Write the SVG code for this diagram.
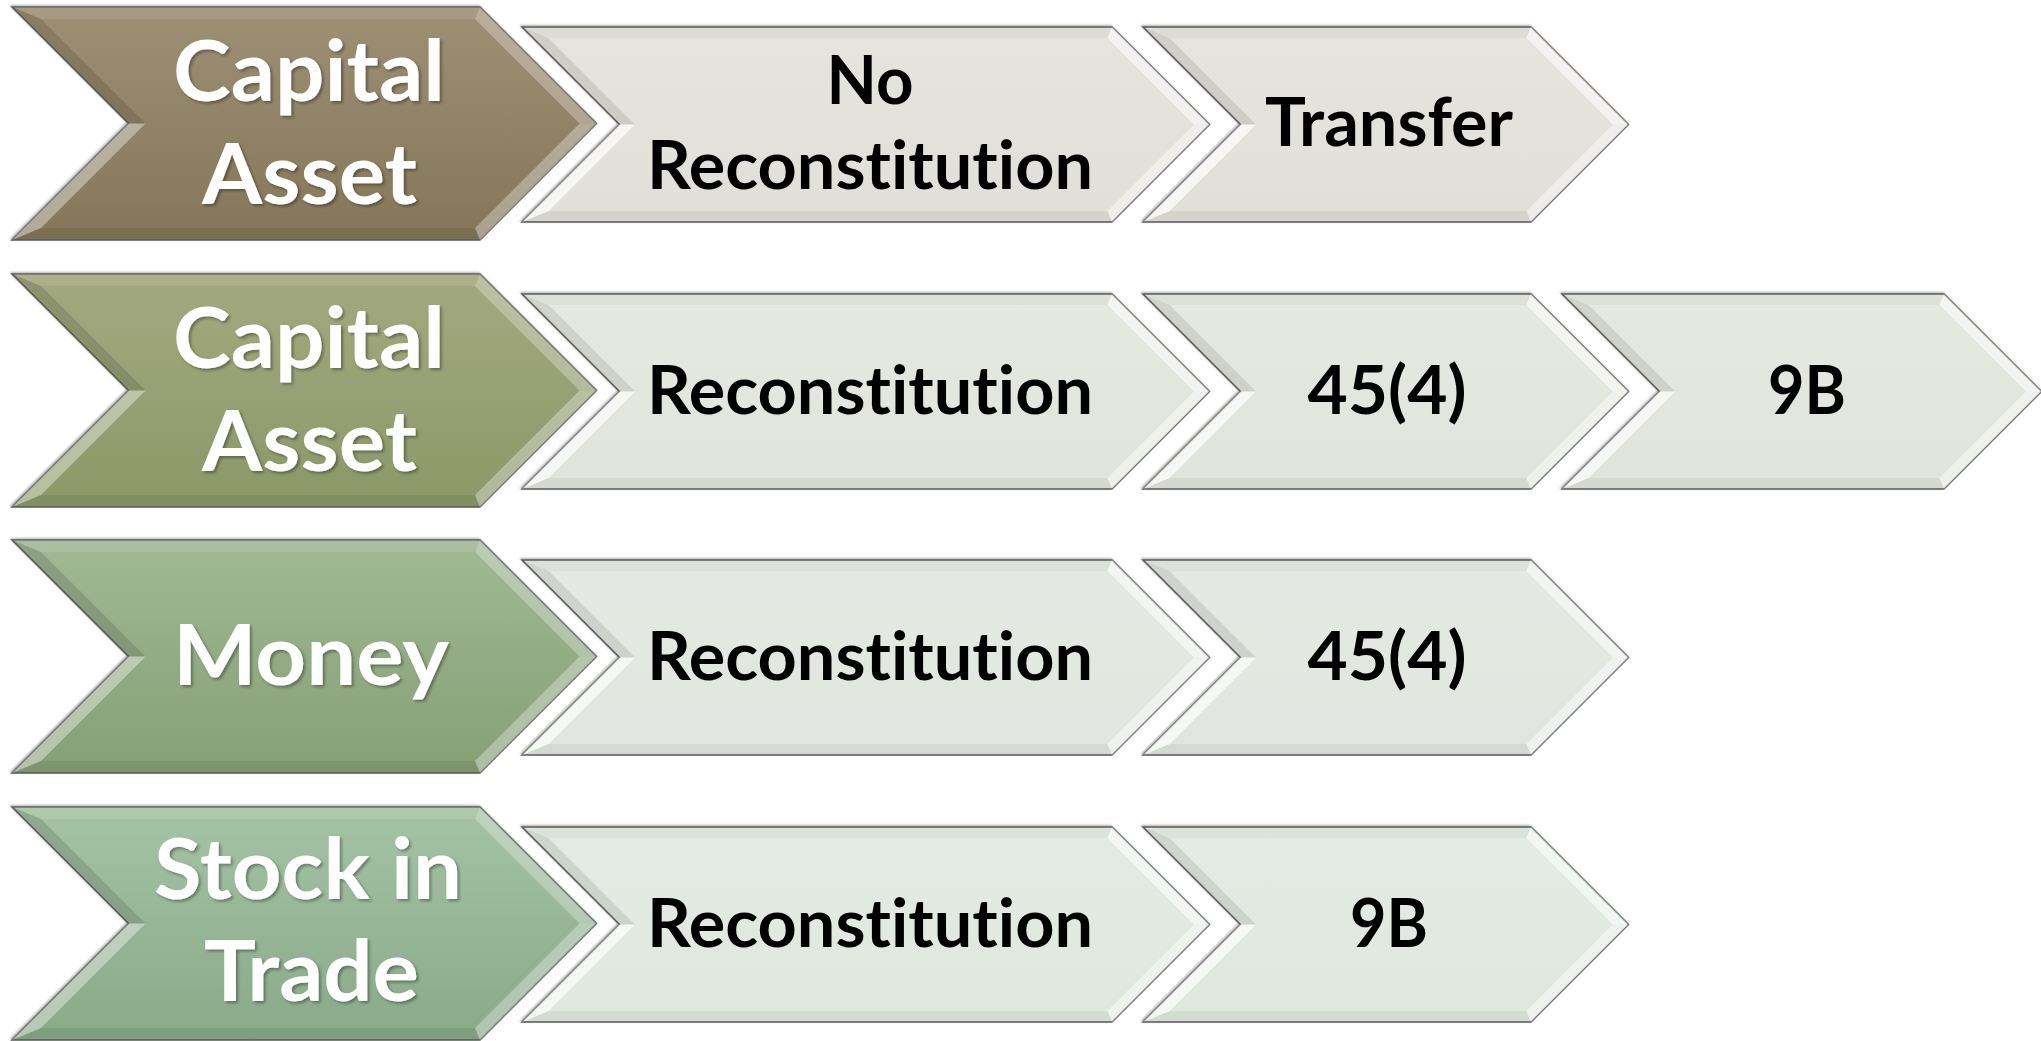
<svg xmlns="http://www.w3.org/2000/svg" xmlns:xlink="http://www.w3.org/1999/xlink" width="2041" height="1041" viewBox="0 0 2041 1041">
<defs>
<style>
.edge{stroke:#5e5e5e;stroke-width:1.5;stroke-linejoin:miter}
.mt{font-family:Lato,"Open Sans",sans-serif;font-weight:700;font-size:85px;fill:#ffffff;text-anchor:middle;font-variant-ligatures:none;font-feature-settings:"liga" 0,"clig" 0}
.st{font-family:Lato,"Open Sans",sans-serif;font-weight:700;font-size:66px;fill:#000000;text-anchor:middle;font-variant-ligatures:none;font-feature-settings:"liga" 0,"clig" 0}
.top{fill:#ffffff;fill-opacity:0.10}
.ur{fill:#ffffff;fill-opacity:0.28}
.lr{fill:#ffffff;fill-opacity:0.32}
.bot{fill:#000000;fill-opacity:0.07}
.ll{fill:#ffffff;fill-opacity:0.38}
.ul{fill:#000000;fill-opacity:0.12}
.stop{fill:#000000;fill-opacity:0.03}
.sur{fill:#ffffff;fill-opacity:0.55}
.slr{fill:#ffffff;fill-opacity:0.45}
.sbot{fill:#000000;fill-opacity:0.05}
.sll{fill:#ffffff;fill-opacity:0.7}
.sul{fill:#000000;fill-opacity:0.09}
</style>
<filter id="tsh" x="-10%" y="-20%" width="120%" height="140%"><feDropShadow dx="2" dy="2" stdDeviation="1.5" flood-color="#000" flood-opacity="0.35"/></filter>
<filter id="bsh" x="-5%" y="-10%" width="110%" height="120%"><feDropShadow dx="-1" dy="-1" stdDeviation="1.2" flood-color="#000" flood-opacity="0.35"/></filter>
<linearGradient id="m1f" x1="0" y1="0" x2="0" y2="1"><stop offset="0" stop-color="#9d9075"/><stop offset="1" stop-color="#857659"/></linearGradient>
<linearGradient id="m2f" x1="0" y1="0" x2="0" y2="1"><stop offset="0" stop-color="#a3a97f"/><stop offset="1" stop-color="#8c9868"/></linearGradient>
<linearGradient id="m3f" x1="0" y1="0" x2="0" y2="1"><stop offset="0" stop-color="#a1b996"/><stop offset="1" stop-color="#869f75"/></linearGradient>
<linearGradient id="m4f" x1="0" y1="0" x2="0" y2="1"><stop offset="0" stop-color="#a5c3a5"/><stop offset="1" stop-color="#89a989"/></linearGradient>
<linearGradient id="s1f" x1="0" y1="0" x2="0" y2="1"><stop offset="0" stop-color="#e6e4df"/><stop offset="1" stop-color="#e1dfd9"/></linearGradient>
<linearGradient id="s2f" x1="0" y1="0" x2="0" y2="1"><stop offset="0" stop-color="#e6e8e2"/><stop offset="1" stop-color="#e1e4dd"/></linearGradient>
<linearGradient id="s3f" x1="0" y1="0" x2="0" y2="1"><stop offset="0" stop-color="#e5e9e3"/><stop offset="1" stop-color="#e0e6df"/></linearGradient>
<linearGradient id="s4f" x1="0" y1="0" x2="0" y2="1"><stop offset="0" stop-color="#e4ebe4"/><stop offset="1" stop-color="#dfe7df"/></linearGradient>

<g id="bvMain">
<polygon class="top" points="12,0 480,0 475,12 41,12"/>
<polygon class="ur" points="480,0 596.5,116.5 579.5,116.5 475,12"/>
<polygon class="lr" points="596.5,116.5 480,233 475,221 579.5,116.5"/>
<polygon class="bot" points="480,233 12,233 41,221 475,221"/>
<polygon class="ll" points="12,233 128.5,116.5 145.5,116.5 41,221"/>
<polygon class="ul" points="128.5,116.5 12,0 41,12 145.5,116.5"/>
</g>
<g id="bv1">
<polygon class="stop" points="522,20 1112,20 1107.4,31 548.6,31"/>
<polygon class="sur" points="1112,20 1209.5,117.5 1193.9,117.5 1107.4,31"/>
<polygon class="slr" points="1209.5,117.5 1112,215 1107.4,204 1193.9,117.5"/>
<polygon class="sbot" points="1112,215 522,215 548.6,204 1107.4,204"/>
<polygon class="sll" points="522,215 619.5,117.5 635.1,117.5 548.6,204"/>
<polygon class="sul" points="619.5,117.5 522,20 548.6,31 635.1,117.5"/>
</g>
<g id="bv2">
<polygon class="stop" points="1143,20 1531,20 1526.4,31 1169.6,31"/>
<polygon class="sur" points="1531,20 1628.5,117.5 1612.9,117.5 1526.4,31"/>
<polygon class="slr" points="1628.5,117.5 1531,215 1526.4,204 1612.9,117.5"/>
<polygon class="sbot" points="1531,215 1143,215 1169.6,204 1526.4,204"/>
<polygon class="sll" points="1143,215 1240.5,117.5 1256.1,117.5 1169.6,204"/>
<polygon class="sul" points="1240.5,117.5 1143,20 1169.6,31 1256.1,117.5"/>
</g>
<g id="bv3">
<polygon class="stop" points="1562,20 1944,20 1939.4,31 1588.6,31"/>
<polygon class="sur" points="1944,20 2041.5,117.5 2025.9,117.5 1939.4,31"/>
<polygon class="slr" points="2041.5,117.5 1944,215 1939.4,204 2025.9,117.5"/>
<polygon class="sbot" points="1944,215 1562,215 1588.6,204 1939.4,204"/>
<polygon class="sll" points="1562,215 1659.5,117.5 1675.1,117.5 1588.6,204"/>
<polygon class="sul" points="1659.5,117.5 1562,20 1588.6,31 1675.1,117.5"/>
</g>
</defs>
<rect width="2041" height="1041" fill="#ffffff"/>
<g id="connectors"/>

<!-- Row 1 -->
<g id="row1-main" transform="translate(0,7)">
<polygon class="edge" filter="url(#bsh)" fill="url(#m1f)" points="12,0 480,0 596.5,116.5 480,233 12,233 128.5,116.5"/>
<use href="#bvMain" xlink:href="#bvMain"/>
<g filter="url(#tsh)"><text class="mt" x="309" y="94" textLength="272" lengthAdjust="spacingAndGlyphs">Capital</text>
<text class="mt" x="309.5" y="197" textLength="215" lengthAdjust="spacingAndGlyphs">Asset</text></g>
</g>
<g id="row1-no-reconstitution" transform="translate(0,7)">
<polygon class="edge" filter="url(#bsh)" fill="url(#s1f)" points="522,20 1112,20 1209.5,117.5 1112,215 522,215 619.5,117.5"/>
<use href="#bv1" xlink:href="#bv1"/>
<text class="st" x="870" y="97" textLength="87" lengthAdjust="spacingAndGlyphs">No</text>
<text class="st" x="870" y="182" textLength="446" lengthAdjust="spacingAndGlyphs">Reconstitution</text>
</g>
<g id="row1-transfer" transform="translate(0,7)">
<polygon class="edge" filter="url(#bsh)" fill="url(#s1f)" points="1143,20 1531,20 1628.5,117.5 1531,215 1143,215 1240.5,117.5"/>
<use href="#bv2" xlink:href="#bv2"/>
<text class="st" x="1389" y="139" textLength="248" lengthAdjust="spacingAndGlyphs">Transfer</text>
</g>

<!-- Row 2 -->
<g id="row2-main" transform="translate(0,274)">
<polygon class="edge" filter="url(#bsh)" fill="url(#m2f)" points="12,0 480,0 596.5,116.5 480,233 12,233 128.5,116.5"/>
<use href="#bvMain" xlink:href="#bvMain"/>
<g filter="url(#tsh)"><text class="mt" x="309" y="94" textLength="272" lengthAdjust="spacingAndGlyphs">Capital</text>
<text class="mt" x="309.5" y="197" textLength="215" lengthAdjust="spacingAndGlyphs">Asset</text></g>
</g>
<g id="row2-reconstitution" transform="translate(0,274)">
<polygon class="edge" filter="url(#bsh)" fill="url(#s2f)" points="522,20 1112,20 1209.5,117.5 1112,215 522,215 619.5,117.5"/>
<use href="#bv1" xlink:href="#bv1"/>
<text class="st" x="870" y="140" textLength="446" lengthAdjust="spacingAndGlyphs">Reconstitution</text>
</g>
<g id="row2-45-4" transform="translate(0,274)">
<polygon class="edge" filter="url(#bsh)" fill="url(#s2f)" points="1143,20 1531,20 1628.5,117.5 1531,215 1143,215 1240.5,117.5"/>
<use href="#bv2" xlink:href="#bv2"/>
<text class="st" x="1387" y="140" textLength="159" lengthAdjust="spacingAndGlyphs">45(4)</text>
</g>
<g id="row2-9b" transform="translate(0,274)">
<polygon class="edge" filter="url(#bsh)" fill="url(#s2f)" points="1562,20 1944,20 2041.5,117.5 1944,215 1562,215 1659.5,117.5"/>
<use href="#bv3" xlink:href="#bv3"/>
<text class="st" x="1807" y="140" textLength="78" lengthAdjust="spacingAndGlyphs">9B</text>
</g>

<!-- Row 3 -->
<g id="row3-main" transform="translate(0,540)">
<polygon class="edge" filter="url(#bsh)" fill="url(#m3f)" points="12,0 480,0 596.5,116.5 480,233 12,233 128.5,116.5"/>
<use href="#bvMain" xlink:href="#bvMain"/>
<g filter="url(#tsh)"><text class="mt" x="311" y="145" textLength="276" lengthAdjust="spacingAndGlyphs">Money</text></g>
</g>
<g id="row3-reconstitution" transform="translate(0,540)">
<polygon class="edge" filter="url(#bsh)" fill="url(#s3f)" points="522,20 1112,20 1209.5,117.5 1112,215 522,215 619.5,117.5"/>
<use href="#bv1" xlink:href="#bv1"/>
<text class="st" x="870" y="140" textLength="446" lengthAdjust="spacingAndGlyphs">Reconstitution</text>
</g>
<g id="row3-45-4" transform="translate(0,540)">
<polygon class="edge" filter="url(#bsh)" fill="url(#s3f)" points="1143,20 1531,20 1628.5,117.5 1531,215 1143,215 1240.5,117.5"/>
<use href="#bv2" xlink:href="#bv2"/>
<text class="st" x="1387" y="140" textLength="159" lengthAdjust="spacingAndGlyphs">45(4)</text>
</g>

<!-- Row 4 -->
<g id="row4-main" transform="translate(0,807)">
<polygon class="edge" filter="url(#bsh)" fill="url(#m4f)" points="12,0 480,0 596.5,116.5 480,233 12,233 128.5,116.5"/>
<use href="#bvMain" xlink:href="#bvMain"/>
<g filter="url(#tsh)"><text class="mt" x="308" y="92" textLength="308" lengthAdjust="spacingAndGlyphs">Stock in</text>
<text class="mt" x="311.5" y="194" textLength="215" lengthAdjust="spacingAndGlyphs">Trade</text></g>
</g>
<g id="row4-reconstitution" transform="translate(0,807)">
<polygon class="edge" filter="url(#bsh)" fill="url(#s4f)" points="522,20 1112,20 1209.5,117.5 1112,215 522,215 619.5,117.5"/>
<use href="#bv1" xlink:href="#bv1"/>
<text class="st" x="870" y="140" textLength="446" lengthAdjust="spacingAndGlyphs">Reconstitution</text>
</g>
<g id="row4-9b" transform="translate(0,807)">
<polygon class="edge" filter="url(#bsh)" fill="url(#s4f)" points="1143,20 1531,20 1628.5,117.5 1531,215 1143,215 1240.5,117.5"/>
<use href="#bv2" xlink:href="#bv2"/>
<text class="st" x="1389" y="140" textLength="78" lengthAdjust="spacingAndGlyphs">9B</text>
</g>
</svg>
